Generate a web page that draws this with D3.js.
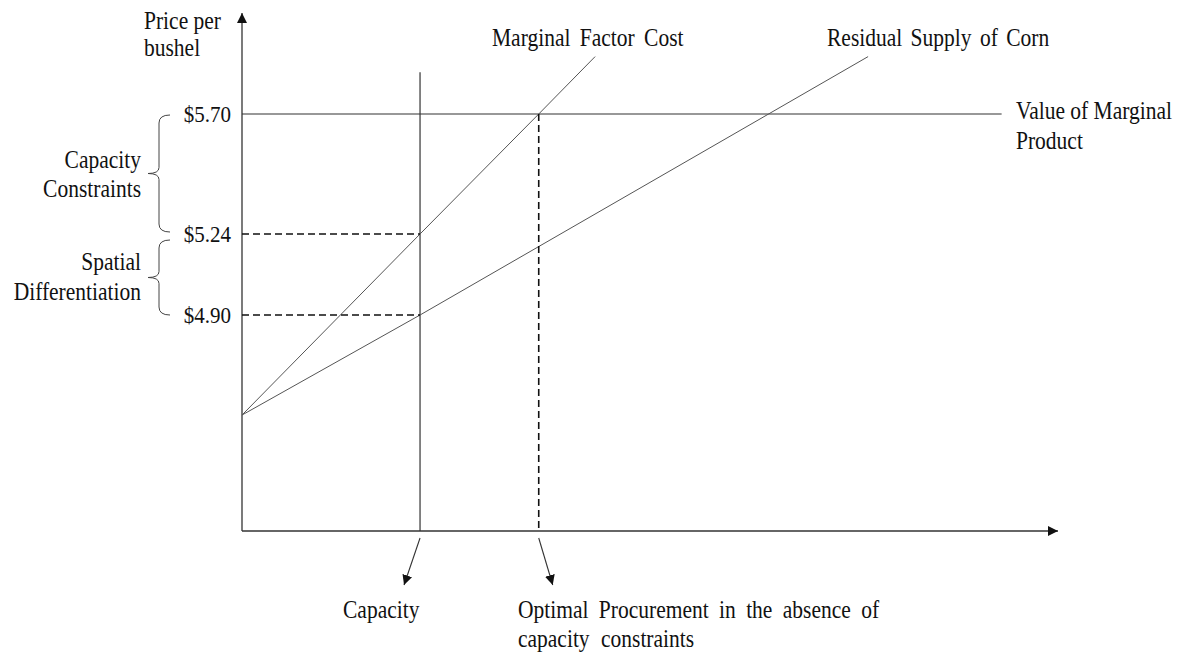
<!DOCTYPE html>
<html>
<head>
<meta charset="utf-8">
<script src="https://cdn.jsdelivr.net/npm/d3@7"></script>
<style>
  body { margin: 0; background: #fff; }
  svg text { font-family: "Liberation Serif", "Times New Roman", serif; fill: #111; }
</style>
</head>
<body>
<svg width="1187" height="658"></svg>
<script>
// Quantity (x) in arbitrary units, price (y) in $ per bushel
const priceTicks = [4.90, 5.24, 5.70];
const capacityQty = 30;
const optimalQty = 50;
const vmpPrice = 5.70;
const vmpEnd = 128;
// curves as [quantity, price]
const mfcPoints = [[0, 4.48], [30, 5.24], [50, 5.70], [59.5, 5.92]];
const rscPoints = [[0, 4.48], [30, 4.90], [105.5, 5.92]];
const capacityTop = 5.86;

const svg = d3.select("svg");
const stretch = 1.13; // the original type is a bit taller than it is wide

const x = d3.scaleLinear().domain([0, 137.5]).range([242, 1058]);
// schematic price axis (not evenly spaced in the original)
const y = d3.scaleLinear().domain(priceTicks).range([315, 234, 114]);
const yBottom = y.invert(531), yTop = y.invert(13);

// arrow marker
const defs = svg.append("defs");
defs.append("marker")
    .attr("id", "arrow")
    .attr("viewBox", "0 0 10 10")
    .attr("refX", 10).attr("refY", 5)
    .attr("markerWidth", 10).attr("markerHeight", 10)
    .attr("markerUnits", "userSpaceOnUse")
    .attr("orient", "auto")
    .append("path")
    .attr("d", "M0,0L10,5L0,10Z")
    .attr("fill", "#111");

// axes with arrow heads
svg.append("line")
    .attr("x1", x(0)).attr("y1", y(yBottom))
    .attr("x2", x(0)).attr("y2", y(yTop))
    .attr("stroke", "#333").attr("stroke-width", 1.3)
    .attr("marker-end", "url(#arrow)");
svg.append("line")
    .attr("x1", x(0)).attr("y1", y(yBottom))
    .attr("x2", x.range()[1]).attr("y2", y(yBottom))
    .attr("stroke", "#333").attr("stroke-width", 1.3)
    .attr("marker-end", "url(#arrow)");

// price labels
const yAxis = svg.append("g")
    .attr("transform", `translate(${x(0)},0)`)
    .call(d3.axisLeft(y).tickValues(priceTicks).tickSize(0).tickPadding(11)
        .tickFormat(d => "$" + d.toFixed(2)));
yAxis.select(".domain").remove();
yAxis.selectAll("text")
    .style("font-family", '"Liberation Serif", serif')
    .style("font-size", "21px")
    .attr("fill", "#111")
    .attr("transform", `scale(1,${stretch})`);

// value of marginal product
svg.append("line")
    .attr("x1", x(0)).attr("y1", y(vmpPrice))
    .attr("x2", x(vmpEnd)).attr("y2", y(vmpPrice))
    .attr("stroke", "#333").attr("stroke-width", 1.2);

// capacity line
svg.append("line")
    .attr("x1", x(capacityQty)).attr("y1", y(yBottom))
    .attr("x2", x(capacityQty)).attr("y2", y(capacityTop))
    .attr("stroke", "#333").attr("stroke-width", 1.2);

const line = d3.line().x(d => x(d[0])).y(d => y(d[1]));
svg.append("path").datum(mfcPoints)
    .attr("d", line).attr("fill", "none")
    .attr("stroke", "#555").attr("stroke-width", 1);
svg.append("path").datum(rscPoints)
    .attr("d", line).attr("fill", "none")
    .attr("stroke", "#555").attr("stroke-width", 1);

// dashed guides
const dash = "7,4";
[5.24, 4.90].forEach(p => {
    svg.append("line")
        .attr("x1", x(0)).attr("y1", y(p))
        .attr("x2", x(capacityQty)).attr("y2", y(p))
        .attr("stroke", "#111").attr("stroke-width", 1.6)
        .attr("stroke-dasharray", dash);
});
svg.append("line")
    .attr("x1", x(optimalQty)).attr("y1", y(vmpPrice))
    .attr("x2", x(optimalQty)).attr("y2", y(yBottom))
    .attr("stroke", "#111").attr("stroke-width", 1.6)
    .attr("stroke-dasharray", dash);

// curly braces on the left
function brace(xr, y1, y2, w) {
    const ym = (y1 + y2) / 2, xm = xr - w / 2, xt = xr - w;
    return `M${xr},${y1} Q${xm},${y1} ${xm},${y1 + 8} L${xm},${ym - 6} Q${xm},${ym} ${xt},${ym}` +
        ` Q${xm},${ym} ${xm},${ym + 6} L${xm},${y2 - 8} Q${xm},${y2} ${xr},${y2}`;
}
svg.append("path")
    .attr("d", brace(170, y(5.70) + 1, y(5.24) - 2, 22))
    .attr("fill", "none").attr("stroke", "#444").attr("stroke-width", 1);
svg.append("path")
    .attr("d", brace(170, y(5.24) + 6, y(4.90), 22))
    .attr("fill", "none").attr("stroke", "#444").attr("stroke-width", 1);

// text labels
function label(txt, tx, ty, anchor) {
    return svg.append("text")
        .attr("transform", `translate(${tx},${ty}) scale(1,${stretch})`)
        .attr("text-anchor", anchor || "start")
        .attr("dominant-baseline", "central")
        .style("font-size", "21.5px")
        .text(txt);
}
label("Price per", 144, 21);
label("bushel", 144, 48);
label("Capacity", 141, 160, "end");
label("Constraints", 141, 189, "end");
label("Spatial", 141, 262, "end");
label("Differentiation", 141, 292, "end");
label("Marginal Factor Cost", 492, 38).style("word-spacing", "4px");
label("Residual Supply of Corn", 827, 38).style("word-spacing", "3px");
label("Value of Marginal", 1016, 111);
label("Product", 1016, 141);
label("Capacity", 343, 610);
label("Optimal Procurement in the absence of", 518, 610).style("word-spacing", "5px");
label("capacity constraints", 518, 639).style("word-spacing", "6px");

// pointer arrows below the axis
const pointers = [[capacityQty, -16], [optimalQty, 14]];
pointers.forEach(([q, dx]) => {
    svg.append("line")
        .attr("x1", x(q)).attr("y1", y(yBottom) + 7)
        .attr("x2", x(q) + dx).attr("y2", y(yBottom) + 54)
        .attr("stroke", "#333").attr("stroke-width", 1.1)
        .attr("marker-end", "url(#arrow)");
});
</script>
</body>
</html>
